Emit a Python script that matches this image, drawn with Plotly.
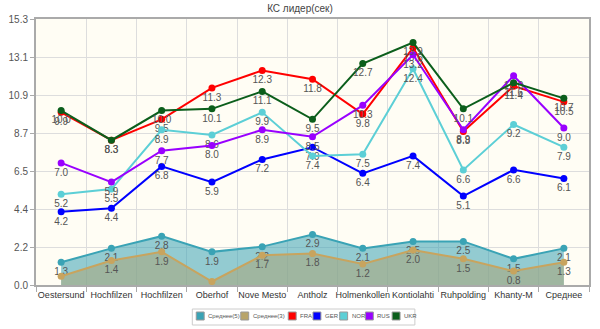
import plotly.graph_objects as go

categories = ["Oestersund", "Hochfilzen", "Hochfilzen", "Oberhof", "Nove Mesto", "Antholz",
              "Holmenkollen", "Kontiolahti", "Ruhpolding", "Khanty-M", "Среднее"]

avg5 = [1.3, 2.1, 2.8, 1.9, 2.2, 2.9, 2.1, 2.5, 2.5, 1.5, 2.1]
avg3 = [0.5, 1.4, 1.9, 0.2, 1.7, 1.8, 1.2, 2.0, 1.5, 0.8, 1.3]
fra = [9.9, 8.3, 9.5, 11.3, 12.3, 11.8, 9.8, 13.6, 8.8, 11.4, 10.5]
ger = [4.2, 4.4, 6.8, 5.9, 7.2, 7.9, 6.4, 7.4, 5.1, 6.6, 6.1]
nor = [5.2, 5.5, 8.9, 8.6, 9.9, 7.4, 7.5, 12.4, 6.6, 9.2, 7.9]
rus = [7.0, 5.9, 7.7, 8.0, 8.9, 8.5, 10.3, 13.2, 8.9, 12.0, 9.0]
ukr = [10.0, 8.3, 10.0, 10.1, 11.1, 9.5, 12.7, 13.9, 10.1, 11.6, 10.7]

y_max = 15.25
y_ticktext = ["0.0", "2.2", "4.4", "6.5", "8.7", "10.9", "13.1", "15.3"]

x = list(range(len(categories)))
font_family = "Liberation Sans"

W, H = 600, 329
ML, MR, MT, MB = 32, 9, 19, 44
PW, PH = W - ML - MR, H - MT - MB


def px_to_paper(px, py):
    return (px - ML) / PW, (H - MB - py) / PH


fig = go.Figure()

series = [
    ("Среднее(5)", avg5, "#3aa3b5", "rgba(58,163,181,0.55)", "#3aa3b5"),
    ("Среднее(3)", avg3, "#c8a45e", "rgba(170,165,120,0.55)", "#b8a46a"),
    ("FRA", fra, "#ff0000", None, "#ff0000"),
    ("GER", ger, "#0000ff", None, "#0000ff"),
    ("NOR", nor, "#5ccfd6", None, "#5ccfd6"),
    ("RUS", rus, "#9900ff", None, "#9900ff"),
    ("UKR", ukr, "#0b5e1b", None, "#0b5e1b"),
]

for name, vals, color, fill, legcolor in series:
    # labels that would fall below the x axis are not drawn (as in the original)
    labels = [f"{v:.1f}" if v >= 0.6 else "" for v in vals]
    fig.add_trace(go.Scatter(
        x=x, y=vals, mode="lines+markers+text", name=name,
        line=dict(color=color, width=2),
        marker=dict(color=color, size=7),
        fill="tozeroy" if fill else None,
        fillcolor=fill,
        text=labels,
        textposition="bottom center",
        textfont=dict(size=10, color="#555", family=font_family),
        showlegend=False,
        cliponaxis=True,
    ))

# custom legend box (layout positions in pixels)
legend_box = (190, 309, 415, 325)
legend_item_x = [194, 239, 287, 312, 339, 365, 392]
shapes = []
annotations = []
x0, y0 = px_to_paper(legend_box[0], legend_box[3])
x1, y1 = px_to_paper(legend_box[2], legend_box[1])
shapes.append(dict(type="rect", xref="paper", yref="paper", x0=x0, y0=y0, x1=x1, y1=y1,
                   line=dict(color="#ccc", width=1), fillcolor="white", layer="above"))
for (name, vals, color, fill, legcolor), sx in zip(series, legend_item_x):
    a0, b0 = px_to_paper(sx, 320)
    a1, b1 = px_to_paper(sx + 8, 312)
    shapes.append(dict(type="rect", xref="paper", yref="paper", x0=a0, y0=b0, x1=a1, y1=b1,
                       line=dict(color="#999", width=1), fillcolor=legcolor, layer="above"))
    tx, ty = px_to_paper(sx + 10, 316)
    annotations.append(dict(text=name, xref="paper", yref="paper", x=tx, y=ty,
                            xanchor="left", yanchor="middle", showarrow=False,
                            font=dict(size=6, color="#555", family=font_family)))

fig.update_layout(
    width=W, height=H,
    margin=dict(l=ML, r=MR, t=MT, b=MB),
    paper_bgcolor="white",
    plot_bgcolor="#fffdf4",
    font=dict(family=font_family, size=10, color="#444"),
    title=dict(text="КС лидер(сек)", x=0.5, xanchor="center", y=0.975, yanchor="middle",
               font=dict(size=10, color="#444", family=font_family)),
    showlegend=False,
    shapes=shapes,
    annotations=annotations,
    xaxis=dict(
        range=[-0.5, len(categories) - 0.5],
        tickmode="array", tickvals=x, ticktext=categories, tickangle=0,
        showgrid=False, zeroline=False,
        showline=True, linecolor="#aaa", linewidth=2, mirror=True,
        ticks="", tickfont=dict(size=9, color="#333"),
        minor=dict(tickmode="linear", tick0=0.5, dtick=1, showgrid=True,
                   gridcolor="#ddd", gridwidth=1, ticks="outside", ticklen=5, tickcolor="#aaa"),
    ),
    yaxis=dict(
        range=[0, y_max],
        tickmode="array",
        tickvals=[i * y_max / 7 for i in range(8)],
        ticktext=y_ticktext,
        showgrid=True, gridcolor="#ddd", gridwidth=1, zeroline=False,
        showline=True, linecolor="#aaa", linewidth=2, mirror=True,
        ticks="outside", ticklen=4, tickcolor="#aaa",
        tickfont=dict(size=10, color="#555"),
    ),
)

fig.write_html("out.html")
